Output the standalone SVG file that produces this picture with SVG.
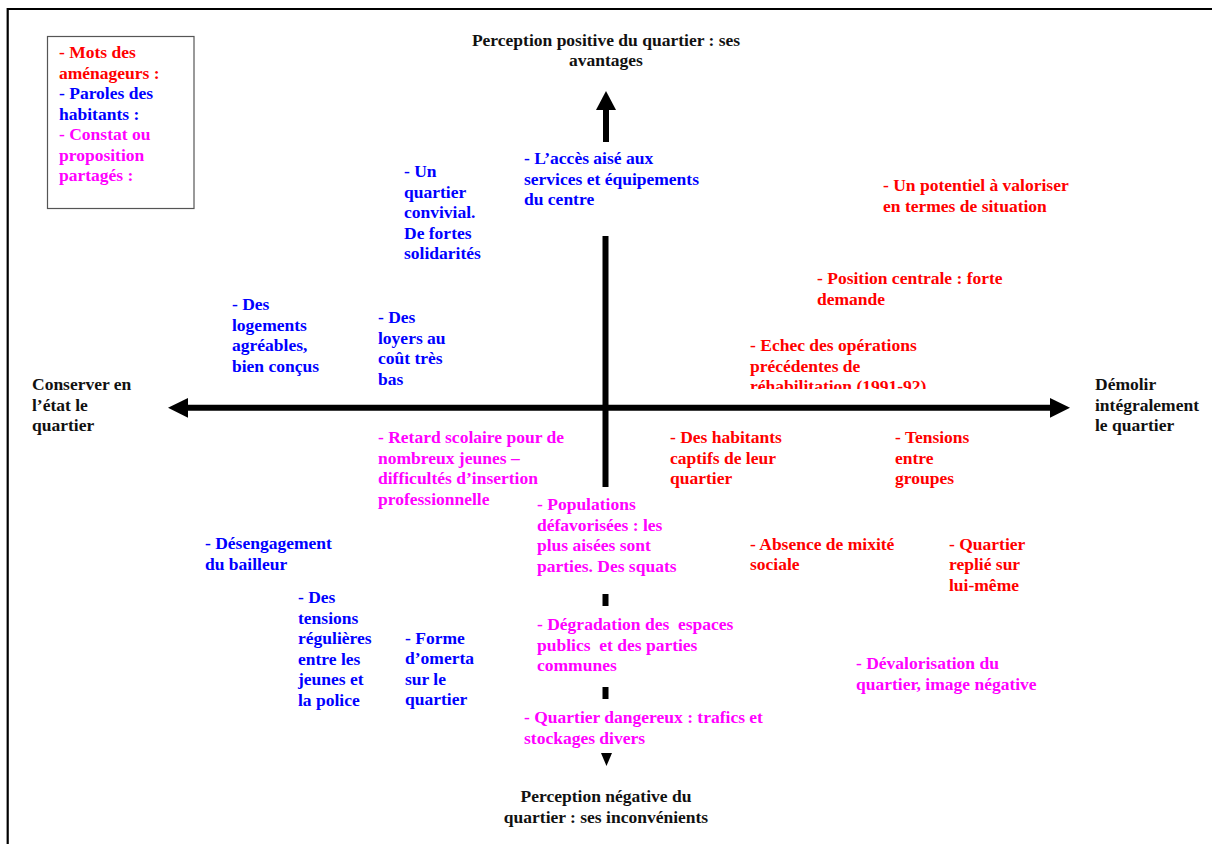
<svg xmlns="http://www.w3.org/2000/svg" width="1212" height="844" viewBox="0 0 1212 844">
<style>
text{font-family:"Liberation Serif","Times New Roman",serif;font-weight:bold;font-size:17.5px;white-space:pre}
.k{fill:#111111}
.r{fill:#ff0000}
.b{fill:#0000ff}
.m{fill:#ff00ff}
.c{text-anchor:middle}
.ax{stroke:#000;stroke-width:6;fill:none}
</style>
<defs>
<clipPath id="clipEchec"><rect x="740" y="330" width="220" height="59"/></clipPath>
</defs>
<rect x="0" y="0" width="1212" height="844" fill="#ffffff"/>
<path d="M7.7,844 V9 H1212" stroke="#000" stroke-width="2.2" fill="none"/>

<g id="connectors">
<path class="ax" d="M606,110 V142"/>
<polygon points="606,91 596,110 616,110" fill="#000"/>
<path class="ax" d="M605.5,236 V487"/>
<path class="ax" d="M605.5,594 V606"/>
<path class="ax" d="M605.5,687 V699"/>
<polygon points="601,753 612,753 606.5,766" fill="#000"/>
<path class="ax" d="M187,407.7 H1052"/>
<polygon points="168,407.7 188,398 188,417.7" fill="#000"/>
<polygon points="1070,407.7 1050,398 1050,417.7" fill="#000"/>
</g>

<g id="legend">
<rect x="47.5" y="36.5" width="146.5" height="172" fill="#fff" stroke="#555" stroke-width="1.2"/>
<text x="59" y="58" class="r">- Mots des</text>
<text x="59" y="78.5" class="r">aménageurs :</text>
<text x="59" y="99" class="b">- Paroles des</text>
<text x="59" y="119.5" class="b">habitants :</text>
<text x="59" y="140" class="m">- Constat ou</text>
<text x="59" y="160.5" class="m">proposition</text>
<text x="59" y="181" class="m">partagés :</text>
</g>

<g id="axis-top">
<text x="606" y="46" class="k c">Perception positive du quartier : ses</text>
<text x="606" y="66" class="k c">avantages</text>
</g>
<g id="axis-bottom">
<text x="606" y="802" class="k c">Perception négative du</text>
<text x="606" y="822.5" class="k c">quartier : ses inconvénients</text>
</g>
<g id="axis-left">
<text x="32" y="390" class="k">Conserver en</text>
<text x="32" y="410.5" class="k">l’état le</text>
<text x="32" y="431" class="k">quartier</text>
</g>
<g id="axis-right">
<text x="1095" y="390" class="k">Démolir</text>
<text x="1095" y="410.5" class="k">intégralement</text>
<text x="1095" y="431" class="k">le quartier</text>
</g>

<g id="n-convivial">
<text x="404" y="177" class="b">- Un</text>
<text x="404" y="197.5" class="b">quartier</text>
<text x="404" y="218" class="b">convivial.</text>
<text x="404" y="238.5" class="b">De fortes</text>
<text x="404" y="259" class="b">solidarités</text>
</g>
<g id="n-acces">
<text x="524" y="164" class="b">- L’accès aisé aux</text>
<text x="524" y="184.5" class="b">services et équipements</text>
<text x="524" y="205" class="b">du centre</text>
</g>
<g id="n-potentiel">
<text x="883" y="191" class="r">- Un potentiel à valoriser</text>
<text x="883" y="211.5" class="r">en termes de situation</text>
</g>
<g id="n-position">
<text x="817" y="284" class="r">- Position centrale : forte</text>
<text x="817" y="304.5" class="r">demande</text>
</g>
<g id="n-echec" clip-path="url(#clipEchec)">
<text x="750" y="351" class="r">- Echec des opérations</text>
<text x="750" y="371.5" class="r">précédentes de</text>
<text x="750" y="392" class="r">réhabilitation (1991-92)</text>
</g>
<g id="n-logements">
<text x="232" y="310" class="b">- Des</text>
<text x="232" y="330.5" class="b">logements</text>
<text x="232" y="351" class="b">agréables,</text>
<text x="232" y="371.5" class="b">bien conçus</text>
</g>
<g id="n-loyers">
<text x="378" y="323" class="b">- Des</text>
<text x="378" y="343.5" class="b">loyers au</text>
<text x="378" y="364" class="b">coût très</text>
<text x="378" y="384.5" class="b">bas</text>
</g>
<g id="n-retard">
<text x="378" y="443" class="m">- Retard scolaire pour de</text>
<text x="378" y="463.5" class="m">nombreux jeunes –</text>
<text x="378" y="484" class="m">difficultés d’insertion</text>
<text x="378" y="504.5" class="m">professionnelle</text>
</g>
<g id="n-captifs">
<text x="670" y="443" class="r">- Des habitants</text>
<text x="670" y="463.5" class="r">captifs de leur</text>
<text x="670" y="484" class="r">quartier</text>
</g>
<g id="n-tensions-groupes">
<text x="895" y="443" class="r">- Tensions</text>
<text x="895" y="463.5" class="r">entre</text>
<text x="895" y="484" class="r">groupes</text>
</g>
<g id="n-populations">
<text x="537" y="510" class="m">- Populations</text>
<text x="537" y="530.5" class="m">défavorisées : les</text>
<text x="537" y="551" class="m">plus aisées sont</text>
<text x="537" y="571.5" class="m">parties. Des squats</text>
</g>
<g id="n-mixite">
<text x="750" y="549.5" class="r">- Absence de mixité</text>
<text x="750" y="570" class="r">sociale</text>
</g>
<g id="n-replie">
<text x="949" y="549.5" class="r">- Quartier</text>
<text x="949" y="570" class="r">replié sur</text>
<text x="949" y="590.5" class="r">lui-même</text>
</g>
<g id="n-desengagement">
<text x="205" y="549" class="b">- Désengagement</text>
<text x="205" y="569.5" class="b">du bailleur</text>
</g>
<g id="n-tensions-police">
<text x="298" y="603" class="b">- Des</text>
<text x="298" y="623.5" class="b">tensions</text>
<text x="298" y="644" class="b">régulières</text>
<text x="298" y="664.5" class="b">entre les</text>
<text x="298" y="685" class="b">jeunes et</text>
<text x="298" y="705.5" class="b">la police</text>
</g>
<g id="n-omerta">
<text x="405" y="643.5" class="b">- Forme</text>
<text x="405" y="664" class="b">d’omerta</text>
<text x="405" y="684.5" class="b">sur le</text>
<text x="405" y="705" class="b">quartier</text>
</g>
<g id="n-degradation">
<text x="537" y="630" class="m">- Dégradation des  espaces</text>
<text x="537" y="650.5" class="m">publics  et des parties</text>
<text x="537" y="671" class="m">communes</text>
</g>
<g id="n-devalorisation">
<text x="856" y="669" class="m">- Dévalorisation du</text>
<text x="856" y="689.5" class="m">quartier, image négative</text>
</g>
<g id="n-dangereux">
<text x="524" y="723" class="m">- Quartier dangereux : trafics et</text>
<text x="524" y="743.5" class="m">stockages divers</text>
</g>
</svg>
